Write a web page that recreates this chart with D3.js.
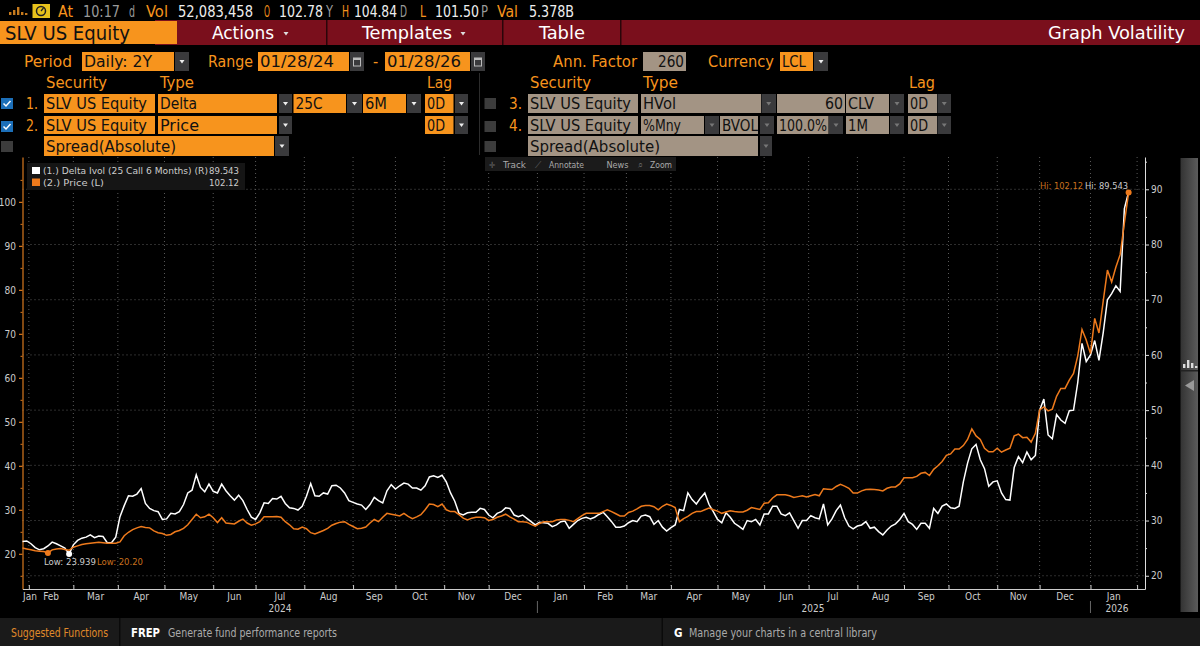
<!DOCTYPE html>
<html><head><meta charset="utf-8">
<script src="https://cdn.jsdelivr.net/npm/d3@7"></script>
<style>html,body{margin:0;padding:0;background:#000;overflow:hidden}svg{display:block}text{font-family:"DejaVu Sans";font-stretch:condensed}</style>
</head><body><svg id="c" width="1200" height="646"></svg>
<script>
// ---- data: every second weekday from 2024-01-29 to 2026-01-28 ----
const startDate = "2024-01-29", endDate = "2026-01-28";
const deltaIvol = [26.2,26.3,25.8,25.1,24.7,24.9,25.4,26.1,25.8,25.4,25.0,23.939,25.6,26.4,26.8,27.0,27.4,26.9,27.2,27.1,26.0,26.0,27.0,30.7,32.7,34.5,34.4,34.8,35.8,33.1,32.2,31.8,31.6,30.2,30.3,31.3,31.2,31.6,32.9,35.0,35.5,38.3,36,35.2,36.6,35.3,35,36.6,35.4,34.5,33.7,34.6,33.6,32.0,30.6,30.2,31.4,33.2,33.1,34,33.9,34.4,33.1,32.3,32.2,31.9,32.6,34.4,36.7,34.5,34.4,35.0,34.8,36.3,36.4,35.9,35,33.6,33.3,33,32.8,32,32.9,34.2,33.6,33.2,35.4,36.5,35.7,36.3,36.8,36.6,35.9,35.9,35.5,36.3,37.9,38.1,37.8,38.2,37,35,33.5,31.3,31,31.4,31.5,31.5,32.2,32,31,30.5,31.3,31.6,32.3,32.2,31,30.7,31.0,30.4,29.8,29.2,29.7,29.6,29.5,28.9,29.2,29.8,29.9,28.6,29.3,30,30.4,30.6,30.3,30.6,31.1,31.5,30.7,29.8,28.8,28.8,29,29.6,30,29.8,30.8,31,30.7,29.3,30,28.8,28.1,28.7,29.2,32.0,31.8,35,33.8,33,34.1,35,32.9,31.6,30.2,29.6,31.4,30.6,29.5,29,28.4,30,29.8,30.2,29.2,31.2,31.2,32.6,32.6,31.2,30.9,31.4,30,28.6,30,30,30.9,30.5,30.3,33,29.2,30.3,31.8,32.8,30.5,29,28.5,29,29.2,29.8,28.6,28.8,28,27.4,28.3,29,29.4,30.2,31.3,29.8,29.3,28.4,29.5,29.5,28.6,32.2,31.3,32.6,33,32.3,32.2,32.6,37,40.4,43,43.8,41,39.4,36.2,37,37.2,35,33.8,33.7,39.6,41.6,40.5,42.4,41,41.8,50,52,45.5,44.8,49.2,48.2,47.6,49.9,50,55,62.1,58.8,60,62.6,59,64,70,71.1,72.5,71.5,86.5,89.543];
const price = [21.3,21.1,20.9,20.7,20.6,20.5,20.2,20.9,21.1,21.2,21.0,20.8,21.5,21.8,22.1,22.3,22.4,22.5,22.6,22.5,22.4,22.4,22.4,22.7,24.1,24.9,25.5,25.9,26.2,26.0,25.9,25.2,24.8,24.6,24.2,24.4,25.0,25.3,25.8,26.6,27.8,29.0,28.2,28.4,29.0,28.2,27.1,28.2,27.0,26.9,26.8,27.4,27.9,27.0,26.5,26.8,27.3,28.4,28.4,28.4,28.5,28.3,27.3,26.6,25.7,25.6,26.1,25.7,24.8,24.5,24.9,25.3,25.8,26.5,26.9,27.2,27.3,26.7,26.2,25.7,25.8,26.1,27.0,27.8,27.3,28.3,29.2,29.0,28.8,28.6,29.2,28.5,28.0,28.4,28.9,30.0,31.3,31.2,30.7,31.3,30.0,29.6,29.6,28.9,28.1,27.7,28.1,28.3,28.3,28.2,27.6,27.8,28.3,28.6,29,28.4,27.9,27.3,27.3,27.2,26.7,26.3,26.9,27.3,27.3,27.3,27.7,27.8,27.8,27.6,27.3,28.0,28.7,29.2,29.2,29.2,29.2,29.6,30,29.6,29.1,28.6,28.6,29.4,29.7,30.2,30.8,31,31,30.7,30,30.8,31.3,31.0,30.5,27.3,28.0,28.5,29.2,29.6,29.6,30.0,30.4,30,29.7,29.2,29.5,29.8,29.6,29.5,29.5,29.9,30.5,30.3,30.1,31.5,31.6,32.7,33.4,33.4,33.4,33.2,32.8,33.0,33.2,32.9,33.2,33.5,33.2,34.8,34.7,34.6,35.3,35.8,35.4,34.9,33.8,33.8,34.3,34.6,34.7,34.6,34.5,34.3,34.9,35.2,35.2,35.9,37.3,37.3,37.3,37.6,38.3,38.5,37.8,39.2,40,41.0,42.4,42.7,43.8,43.8,44.6,46,48.4,46.8,46.0,44,43.2,43.2,44,43.1,43.6,44,46.8,47.2,46.4,46.5,45.4,47.4,52.7,53.4,52.5,52.9,55.8,57.6,57.6,59.5,61,65,71,68.6,65.5,73.5,70.2,77.4,84.5,81.8,85.2,88,95.2,102.12];
const monthStarts = ["2024-02-01","2024-03-01","2024-04-01","2024-05-01","2024-06-03","2024-07-01","2024-08-01","2024-09-03","2024-10-01","2024-11-01","2024-12-02","2025-01-02","2025-02-03","2025-03-03","2025-04-01","2025-05-01","2025-06-02","2025-07-01","2025-08-01","2025-09-02","2025-10-01","2025-11-03","2025-12-01","2026-01-02","2026-02-02"];
const monthNames = ["Jan","Feb","Mar","Apr","May","Jun","Jul","Aug","Sep","Oct","Nov","Dec","Jan","Feb","Mar","Apr","May","Jun","Jul","Aug","Sep","Oct","Nov","Dec","Jan"];
const leftTicks = [20,30,40,50,60,70,80,90,100];
const rightTicks = [20,30,40,50,60,70,80,90];

// ---- helpers ----
const svg = d3.select("#c");
const ORANGE="#f7941d", TAN="#a39484", MAROON="#7a0f1c", CARET="#3a3a3c", LINEO="#ee7a1c";
function T(x,y,s,o={}){const t=svg.append("text").attr("x",x).attr("y",y).text(s)
  .attr("font-size",o.size||16).attr("fill",o.color||"#fff").attr("text-anchor",o.anchor||"start");
  if(o.w){t.attr("textLength",o.w).attr("lengthAdjust","spacingAndGlyphs");}
  if(o.bold)t.attr("font-weight","bold");return t;}
function R(x0,x1,y0,y1,f){return svg.append("rect").attr("x",x0).attr("y",y0).attr("width",x1-x0).attr("height",y1-y0).attr("fill",f);}
function caret(x0,x1,y0,y1,col){R(x0,x1,y0,y1,CARET);const cx=(x0+x1)/2,cy=(y0+y1)/2;
  svg.append("path").attr("d",`M${cx-2.5},${cy-1.5}h5l-2.5,3.5z`).attr("fill",col||"#eee");}
function box(x0,x1,y0,y1,f,s,tw,o={}){R(x0,x1,y0,y1,f);
  const y=(y0+y1)/2+5.8;
  if(o.right)T(x1-2,y,s,{color:"#111",anchor:"end",w:tw});else T(x0+2,y,s,{color:"#111",w:tw});}
function check(y,on){R(1,13,y,y+11,on?"#1c6fb8":"#3c3c3c");
  if(on)svg.append("path").attr("d",`M3.5,${y+5.5}l2.5,2.5l4.5,-5`).attr("stroke","#fff").attr("stroke-width",1.5).attr("fill","none");}
function checkR(y){R(484.5,496,y,y+11,"#3c3c3c");}

// top status row
[[9,3],[13,5],[17,8],[21,3],[25,2]].forEach(([x,h])=>R(x,x+2.4,15-h,15,"#c77b1e"));
R(32.5,50,4,18,"#e8c21c");
svg.append("circle").attr("cx",41).attr("cy",11).attr("r",4.5).attr("fill","none").attr("stroke","#222").attr("stroke-width",1.5);
svg.append("line").attr("x1",41).attr("y1",11).attr("x2",43.5).attr("y2",8).attr("stroke","#222").attr("stroke-width",1.2);
[[58,"At",15,ORANGE],[83,"10:17",37,"#9a9a9a"],[129,"d",6,"#9a9a9a"],[146,"Vol",22,ORANGE],[178,"52,083,458",75,"#eee"],[264,"O",6,ORANGE],[279,"102.78",44,"#eee"],[326,"Y",7,"#9a9a9a"],[342,"H",7,ORANGE],[354,"104.84",43,"#eee"],[400,"D",7,"#9a9a9a"],[420,"L",6,ORANGE],[435,"101.50",44,"#eee"],[481,"P",7,"#9a9a9a"],[497,"Val",21,ORANGE],[529,"5.378B",45,"#eee"]]
 .forEach(([x,s,w,c])=>T(x,17,s,{size:15,w,color:c}));
// title bar
R(155,1200,20,45,MAROON);
R(0,177,21,44,ORANGE);
T(5,40,"SLV US Equity",{size:19,color:"#111",w:125});
[326,502,620].forEach(x=>R(x,x+1.5,20,45,"#2a0509"));
T(212,39,"Actions",{size:18,w:62});
T(362,39,"Templates",{size:18,w:90});
T(539,39,"Table",{size:18,w:46});
T(1048,39,"Graph Volatility",{size:18,w:137});
[[286,32],[463,32]].forEach(([x,y])=>svg.append("path").attr("d",`M${x-2.5},${y}h5l-2.5,3.5z`).attr("fill","#ddd"));
// period row
T(24,67,"Period",{color:ORANGE,w:48});
box(82,174,52,71,ORANGE,"Daily: 2Y",68); caret(175,189,52,71);
T(208,67,"Range",{color:ORANGE,w:45});
box(258,349,52,71,ORANGE,"01/28/24",74); R(350,364,52,71,CARET);
T(373,67,"-",{color:ORANGE});
box(385,470,52,71,ORANGE,"01/28/26",74); R(471,485,52,71,CARET);
[[357],[478]].forEach(([x])=>{svg.append("rect").attr("x",x-3.5).attr("y",58).attr("width",7).attr("height",8).attr("fill","none").attr("stroke","#bbb");R(x-3.5,x+3.5,58,60,"#bbb");});
T(553,67,"Ann. Factor",{color:ORANGE,w:84});
box(643,686,52,71,TAN,"260",26,{right:true});
T(708,67,"Currency",{color:ORANGE,w:66});
box(780,813,52,71,ORANGE,"LCL",24); caret(814,828,52,71);
// headers
[[46,"Security",61],[160,"Type",34],[427,"Lag",25],[530,"Security",61],[643,"Type",35],[909,"Lag",26]].forEach(([x,s,w])=>T(x,88,s,{color:ORANGE,w}));
R(479,480,73,155,"#2c2c2c");
// rows
check(98,true);check(121,true);check(141,false);
T(26,109,"1.",{color:ORANGE,w:12});T(26,131,"2.",{color:ORANGE,w:12});
box(44,155,94,113,ORANGE,"SLV US Equity",101);
box(158,277,94,113,ORANGE,"Delta",37);caret(279,292,94,113);
box(293.5,346,94,113,ORANGE,"25C",27);caret(347,362,94,113);
box(363,406,94,113,ORANGE,"6M",22);caret(407,421,94,113);
box(425,453.5,94,113,ORANGE,"0D",18);caret(455,468,94,113);
box(44,155,116,134,ORANGE,"SLV US Equity",101);
box(158,277,116,134,ORANGE,"Price",39);caret(279,292,116,134);
box(425,453.5,116,134,ORANGE,"0D",18);caret(455,468,116,134);
box(44,274,136,156,ORANGE,"Spread(Absolute)",130);caret(275,289,136,156);
checkR(98);checkR(121);checkR(141);
T(509,109,"3.",{color:ORANGE,w:13});T(509,131,"4.",{color:ORANGE,w:13});
const G="#777";
box(528,638,94,113,TAN,"SLV US Equity",101);
box(641,761,94,113,TAN,"HVol",33);caret(761.5,776,94,113,G);
box(777,845,94,113,TAN,"60",18,{right:true});
box(846,889,94,113,TAN,"CLV",26);caret(890,904,94,113,G);
box(908,937,94,113,TAN,"0D",18);caret(937.5,951,94,113,G);
box(528,638,116,134,TAN,"SLV US Equity",101);
box(641,704,116,134,TAN,"%Mny",38);caret(705,719,116,134,G);
box(720,758,116,134,TAN,"BVOL",36);caret(760,774,116,134,G);
box(777,828.5,116,134,TAN,"100.0%",48);caret(829,843,116,134,G);
box(846,889,116,134,TAN,"1M",20);caret(890,904,116,134,G);
box(908,937,116,134,TAN,"0D",18);caret(937.5,951,116,134,G);
box(528,758,136,156,TAN,"Spread(Absolute)",130);caret(760,772,136,156,G);

// ---- chart ----
const PL=22.5, PR=1145, PT=157, PB=589;
const isWeekday=d=>d.getUTCDay()%6!==0;
const allDays=d3.utcDays(new Date(startDate),d3.utcDay.offset(new Date(endDate),1)).filter(isWeekday);
const idx=s=>d3.bisectLeft(allDays,new Date(s));
const samples=allDays.map((d,i)=>i).filter(i=>i%2===0);
const x=d3.scaleLinear().domain([0,(PR-PL)/2.119]).range([PL,PR]);
const yL=d3.scaleLinear().domain([12,110.2]).range([PB,PT]);
const yR=d3.scaleLinear().domain([17.6,95.85]).range([PB,PT]);
const tickIdx=monthStarts.map(s=>{const d=new Date(s);return d<=new Date(endDate)?idx(s):Math.round(allDays.length-1+d3.utcDay.count(new Date(endDate),d)*5/7);});

const grid=svg.append("g").attr("stroke","#5a5a5a").attr("stroke-dasharray","1,3").attr("stroke-width",1);
grid.selectAll(".v").data(tickIdx).join("line").attr("class","v").attr("x1",d=>x(d)).attr("x2",d=>x(d)).attr("y1",PT).attr("y2",PB);
grid.selectAll(".h").data(rightTicks).join("line").attr("class","h").attr("x1",PL).attr("x2",PR).attr("y1",d=>yR(d)).attr("y2",d=>yR(d));

const axL=svg.append("g").attr("transform",`translate(${PL},0)`).call(d3.axisLeft(yL).tickValues(leftTicks).tickSize(3.5).tickPadding(3).tickSizeOuter(0));
axL.selectAll("path,line").attr("stroke","#d9791e").attr("stroke-width",1.2);
axL.selectAll("text").attr("fill","#ccc").attr("font-size",10).attr("font-family","DejaVu Sans");
const axLm=svg.append("g").attr("transform",`translate(${PL},0)`).call(d3.axisLeft(yL).tickValues(leftTicks.map(d=>d+5).concat([15])).tickSize(2).tickFormat("").tickSizeOuter(0));
axLm.select("path").remove();axLm.selectAll("line").attr("stroke","#d9791e");
const axR=svg.append("g").attr("transform",`translate(${PR},0)`).call(d3.axisRight(yR).tickValues(rightTicks).tickSize(4).tickPadding(2).tickSizeOuter(0));
axR.selectAll("path,line").attr("stroke","#ddd").attr("stroke-width",1);
axR.selectAll("text").attr("fill","#ccc").attr("font-size",10).attr("font-family","DejaVu Sans");
const axRm=svg.append("g").attr("transform",`translate(${PR},0)`).call(d3.axisRight(yR).tickValues(rightTicks.map(d=>d+5)).tickSize(2).tickFormat("").tickSizeOuter(0));
axRm.select("path").remove();axRm.selectAll("line").attr("stroke","#ddd");
const axB=svg.append("g").attr("transform",`translate(0,${PB})`).call(d3.axisBottom(x).tickValues(tickIdx).tickSize(4).tickFormat("").tickSizeOuter(0));
axB.selectAll("path,line").attr("stroke","#ccc");axB.selectAll("line").attr("transform","translate(0,-4)");

monthNames.forEach((m,i)=>{
  if(i===0){T(x(0)+0.5,600,m,{size:10,color:"#ccc"});return;}
  T((x(tickIdx[i-1])+x(tickIdx[i]))/2,600,m,{size:10,color:"#ccc",anchor:"middle"});
});
[["2024",280],["2025",813],["2026",1117]].forEach(([s,xp])=>T(xp,612,s,{size:10,color:"#ccc",anchor:"middle"}));
[tickIdx[11],tickIdx[23]].forEach(i=>svg.append("line").attr("x1",x(i)).attr("x2",x(i)).attr("y1",601).attr("y2",613).attr("stroke","#666"));

const line=yS=>d3.line().x((d,i)=>x(samples[i])).y(d=>yS(d)).curve(d3.curveLinear);
svg.append("path").datum(deltaIvol).attr("d",line(yR)).attr("fill","none").attr("stroke","#fff").attr("stroke-width",1.5);
svg.append("path").datum(price).attr("d",line(yL)).attr("fill","none").attr("stroke",LINEO).attr("stroke-width",1.5);

const loW=d3.minIndex(deltaIvol),loP=d3.minIndex(price),hiP=d3.maxIndex(price);
svg.append("circle").attr("cx",x(samples[loP])).attr("cy",yL(price[loP])).attr("r",3).attr("fill",LINEO);
svg.append("circle").attr("cx",x(samples[loW])).attr("cy",yR(deltaIvol[loW])).attr("r",3).attr("fill","#fff");
svg.append("circle").attr("cx",x(samples[hiP])).attr("cy",yL(price[hiP])).attr("r",3).attr("fill",LINEO);
T(44,565,"Low: "+deltaIvol[loW],{size:9.5,color:"#ccc",w:52});
T(97,565,"Low: "+price[loP].toFixed(2),{size:9.5,color:"#c9701e",w:46});
T(1040,189,"Hi: "+price[hiP],{size:9.5,color:"#c9701e",w:43});
T(1085,189,"Hi: "+deltaIvol[deltaIvol.length-1],{size:9.5,color:"#ccc",w:43});

// legend
R(27,245,163,190,"#151515");
R(32,40,167,174,"#fff");R(32,40,178.5,186,LINEO);
T(43,174,"(1.) Delta Ivol (25 Call 6 Months) (R)",{size:9.5,color:"#ccc",w:165});
T(239,174,String(deltaIvol[deltaIvol.length-1]),{size:9.5,color:"#ccc",anchor:"end"});
T(43,186,"(2.) Price (L)",{size:9.5,color:"#ccc",w:61});
T(239,186,String(price[price.length-1]),{size:9.5,color:"#ccc",anchor:"end"});

// toolbar
R(485,676,157,171,"#1b1b1b");
[[503,"Track",23],[549,"Annotate",35],[606.5,"News",22],[650,"Zoom",22]].forEach(([xp,s,w])=>T(xp,168,s,{size:9.5,color:"#aaa",w}));
[[492,"✛"],[538,"⟋"],[640,"⌕"]].forEach(([xp,s])=>T(xp,168,s,{size:8.5,color:"#666",anchor:"middle"}));

// right sidebar
const defs=svg.append("defs").append("linearGradient").attr("id","sb").attr("x1",0).attr("x2",1).attr("y1",0).attr("y2",0);
defs.append("stop").attr("offset",0).attr("stop-color","#333");defs.append("stop").attr("offset",1).attr("stop-color","#5c5c5c");
R(1180.5,1198,158,612,"url(#sb)");
R(1180.5,1198,370,371.5,"#222");
[[1183,4],[1187,8],[1191,5],[1195,2]].forEach(([xp,h])=>R(xp,xp+2.4,368-h,368,"#ddd"));
svg.append("path").attr("d","M1185,385.5l9,-5.5v11z").attr("fill","#9a9a9a");

// footer
R(0,1200,618,646,"#1a1a1a");
R(119,120.5,618,646,"#0a0a0a");R(661.5,663,618,646,"#0a0a0a");
T(11,637,"Suggested Functions",{size:11.5,color:"#e08a2a",w:97});
T(131,637,"FREP",{size:11.5,bold:true,w:29});
T(168,637,"Generate fund performance reports",{size:11.5,color:"#aaa",w:169});
T(674,637,"G",{size:11.5,bold:true});
T(689,637,"Manage your charts in a central library",{size:11.5,color:"#aaa",w:188});
</script></body></html>
